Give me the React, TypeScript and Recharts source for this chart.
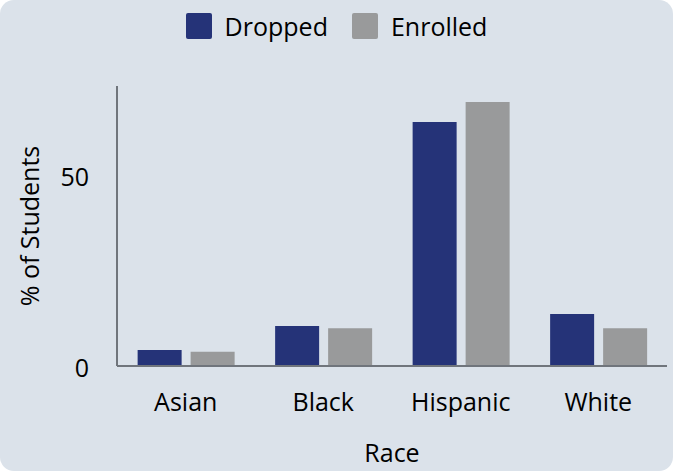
import React from "react";
import { BarChart, Bar, XAxis, YAxis } from "recharts";

const races = ["Asian", "Black", "Hispanic", "White"];
const dropped = [4.2, 10.5, 63.9, 13.6];
const enrolled = [3.7, 9.9, 69.1, 9.9];
const yTicks = [0, 50];

const COLORS = { dropped: "#253378", enrolled: "#999a9b" };
const FONT = "'Open Sans', 'Noto Sans', sans-serif";
const TEXT = { fill: "#000", fontFamily: FONT, fontWeight: 500 };

const data = races.map((race, i) => ({
  race,
  Dropped: dropped[i],
  Enrolled: enrolled[i],
}));

function LegendBox() {
  const items = [
    { name: "Dropped", color: COLORS.dropped },
    { name: "Enrolled", color: COLORS.enrolled },
  ];
  return (
    <div
      style={{
        position: "absolute",
        top: 9,
        left: 0,
        width: 673,
        display: "flex",
        justifyContent: "center",
        gap: 24,
        fontFamily: FONT,
        fontWeight: 500,
        fontSize: 25,
        color: "#000",
      }}
    >
      {items.map((it) => (
        <div key={it.name} style={{ display: "flex", alignItems: "center", gap: 13 }}>
          <div style={{ width: 26, height: 26, background: it.color, borderRadius: 2 }} />
          <span>{it.name}</span>
        </div>
      ))}
    </div>
  );
}

export default function App() {
  return (
    <div
      style={{
        position: "absolute",
        left: 0,
        top: 0,
        width: 673,
        height: 471,
        background: "#dbe2ea",
        borderRadius: 14,
        overflow: "hidden",
      }}
    >
      <LegendBox />
      <BarChart
        width={673}
        height={471}
        data={data}
        margin={{ top: 86, right: 6, left: 0, bottom: 0 }}
        barCategoryGap="15%"
        barGap={9}
      >
        <XAxis
          dataKey="race"
          height={105}
          axisLine={{ stroke: "#70757c", strokeWidth: 2 }}
          tickLine={false}
          tickMargin={21}
          tick={{ fontSize: 25, ...TEXT }}
          label={{
            value: "Race",
            position: "insideBottom",
            offset: 9,
            style: { fontSize: 25, ...TEXT },
          }}
        />
        <YAxis
          width={117}
          domain={[0, 73.3]}
          ticks={yTicks}
          axisLine={{ stroke: "#70757c", strokeWidth: 2 }}
          tickLine={false}
          tickMargin={22}
          tick={{ fontSize: 25, dy: 2, ...TEXT }}
          label={{
            value: "% of Students",
            angle: -90,
            position: "insideLeft",
            offset: 30,
            style: { fontSize: 25, ...TEXT, textAnchor: "middle" },
          }}
        />
        <Bar dataKey="Dropped" fill={COLORS.dropped} isAnimationActive={false} />
        <Bar dataKey="Enrolled" fill={COLORS.enrolled} isAnimationActive={false} />
      </BarChart>
    </div>
  );
}
